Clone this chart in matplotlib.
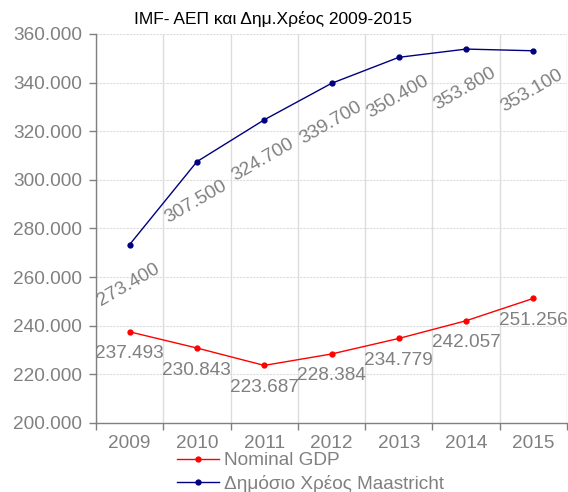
import matplotlib
matplotlib.use('Agg')
import matplotlib.pyplot as plt
from matplotlib.ticker import FixedLocator, FuncFormatter

years = ['2009', '2010', '2011', '2012', '2013', '2014', '2015']
gdp = [237.493, 230.843, 223.687, 228.384, 234.779, 242.057, 251.256]
debt = [273.400, 307.500, 324.700, 339.700, 350.400, 353.800, 353.100]
yticks = [200, 220, 240, 260, 280, 300, 320, 340, 360]
title = 'IMF- ΑΕΠ και Δημ.Χρέος 2009-2015'
gdp_name = 'Nominal GDP'
debt_name = 'Δημόσιο Χρέος Maastricht'

plt.rcParams['font.family'] = ['Liberation Sans', 'DejaVu Sans']
GRAY = '#808080'
FS = 13.7

fig = plt.figure(figsize=(5.68, 4.92), dpi=100)
ax = fig.add_axes([96/568, 69/492, 471/568, 389/492])

x = list(range(len(years)))
ax.plot(x, gdp, color='#ff0000', lw=1, marker='o', ms=3.5, label=gdp_name, zorder=3)
ax.plot(x, debt, color='#000080', lw=1, marker='o', ms=3.5, label=debt_name, zorder=3)

for xi, v in zip(x, gdp):
    ax.annotate(f'{v:.3f}', (xi, v), xytext=(0, -22), textcoords='offset pixels',
                ha='center', va='center', fontsize=FS, color=GRAY)
for xi, v in zip(x, debt):
    ax.annotate(f'{v:.3f}', (xi, v), xytext=(-1, -40), textcoords='offset pixels',
                ha='center', va='center', fontsize=FS, color=GRAY, rotation=30,
                rotation_mode='anchor')

ax.set_xlim(-0.5, 6.5)
ax.set_ylim(200, 360)
ax.yaxis.set_major_locator(FixedLocator(yticks))
ax.yaxis.set_major_formatter(FuncFormatter(lambda v, p: f'{v:.3f}'))
ax.set_xticks(x)
ax.set_xticklabels(years)
ax.set_xticks([i - 0.5 for i in range(len(years) + 1)], minor=True)

ax.tick_params(axis='x', which='major', length=0, pad=9, labelsize=FS, labelcolor=GRAY)
ax.tick_params(axis='x', which='minor', length=5, width=1, color=GRAY)
ax.tick_params(axis='y', which='major', length=5, width=1, color=GRAY, pad=5,
               labelsize=FS, labelcolor=GRAY)

ax.grid(True, axis='y', which='major', color='#dcdcdc', lw=0.8, ls=(0, (2, 1)))
ax.grid(True, axis='x', which='minor', color='#dcdcdc', lw=1)
ax.grid(False, axis='x', which='major')
ax.set_axisbelow(True)

for s in ['top', 'right']:
    ax.spines[s].set_visible(False)
for s in ['left', 'bottom']:
    ax.spines[s].set_color(GRAY)
    ax.spines[s].set_linewidth(1)

fig.text(273/568, 1 - 19/492, title, ha='center', va='center', fontsize=12.5, color='black')

leg = fig.legend(loc='upper left', bbox_to_anchor=(177/568, 1 - 452/492), frameon=False,
                 fontsize=FS, labelcolor=GRAY, handlelength=2.2, handletextpad=0.27,
                 labelspacing=0.3, borderpad=0, borderaxespad=0)

fig.savefig('out.png', dpi=100)
